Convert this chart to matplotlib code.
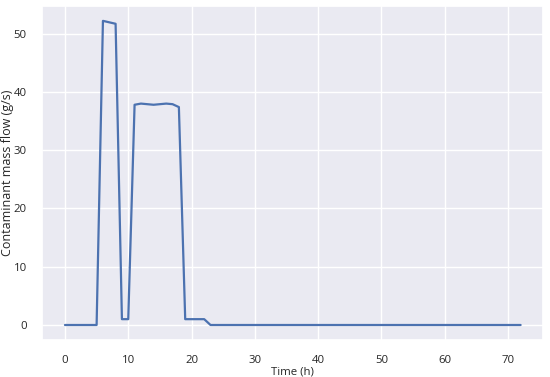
import numpy as np
import matplotlib
matplotlib.use("Agg")
import matplotlib.pyplot as plt
import seaborn as sns

sns.set_theme(style="darkgrid")
plt.rcParams['font.family'] = ['Open Sans', 'DejaVu Sans']

# hourly contaminant mass flow
time_h = np.arange(0, 73)
flow_peak = [0, 0, 0, 0, 0, 0, 52.2, 51.95, 51.7, 1.0, 1.0,
             37.8, 38.0, 37.9, 37.8, 37.9, 38.0, 37.9, 37.4,
             1.0, 1.0, 1.0, 1.0]
flow = np.array(flow_peak + [0.0] * (len(time_h) - len(flow_peak)))

fig = plt.figure(figsize=(5.5, 3.77), dpi=100)
ax = fig.add_axes([0.0767, 0.0976, 0.9113, 0.8874])
ax.plot(time_h, flow, color='#4C72B0', lw=1.6)

ax.set_xlabel('Time (h)', fontsize=8.2, labelpad=0)
ax.set_ylabel('Contaminant mass flow (g/s)', fontsize=9, labelpad=0)
ax.tick_params(labelsize=8.2, pad=5)

fig.savefig('out.png', dpi=100)
